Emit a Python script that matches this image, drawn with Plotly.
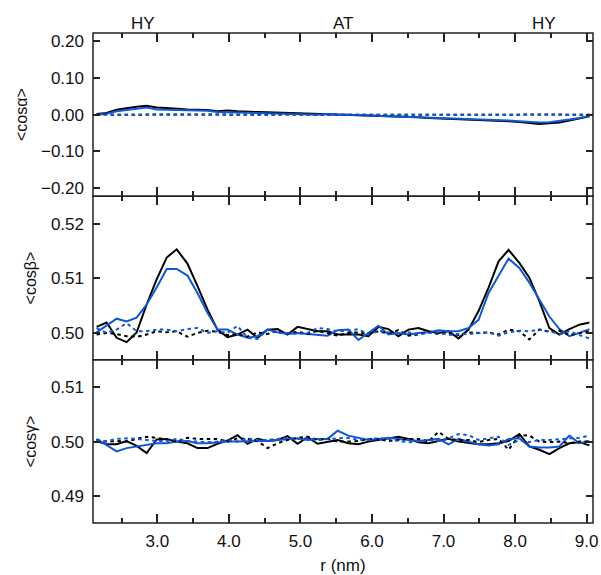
import plotly.graph_objects as go
from plotly.subplots import make_subplots

r_nm = [2.15, 2.29, 2.43, 2.57, 2.71, 2.85, 2.99, 3.13, 3.27, 3.42, 3.56, 3.70, 3.84, 3.98, 4.12,
        4.26, 4.40, 4.54, 4.68, 4.82, 4.96, 5.10, 5.24, 5.38, 5.52, 5.67, 5.81, 5.95, 6.09, 6.23,
        6.37, 6.51, 6.65, 6.79, 6.93, 7.07, 7.21, 7.35, 7.49, 7.63, 7.77, 7.91, 8.06, 8.20, 8.34,
        8.48, 8.62, 8.76, 8.90, 9.04]

# <cos alpha>
alpha_black = [0.0018, 0.0045, 0.0134, 0.0179, 0.0215, 0.0242, 0.0197, 0.0179, 0.0152, 0.0143,
               0.0134, 0.0125, 0.0090, 0.0116, 0.0090, 0.0072, 0.0072, 0.0063, 0.0054, 0.0045,
               0.0045, 0.0036, 0.0018, 0.0027, 0.0000, 0.0000, -0.0018, -0.0027, -0.0036, -0.0045,
               -0.0054, -0.0063, -0.0072, -0.0090, -0.0099, -0.0108, -0.0125, -0.0134, -0.0143, -0.0161,
               -0.0161, -0.0179, -0.0197, -0.0224, -0.0251, -0.0233, -0.0215, -0.0161, -0.0108, -0.0045]
alpha_blue = [0.0000, 0.0027, 0.0090, 0.0134, 0.0161, 0.0197, 0.0143, 0.0134, 0.0125, 0.0116,
              0.0108, 0.0108, 0.0072, 0.0072, 0.0054, 0.0054, 0.0045, 0.0036, 0.0036, 0.0027,
              0.0027, 0.0018, 0.0000, 0.0018, -0.0009, 0.0000, -0.0009, -0.0018, -0.0027, -0.0036,
              -0.0045, -0.0054, -0.0063, -0.0072, -0.0081, -0.0090, -0.0108, -0.0116, -0.0125, -0.0143,
              -0.0152, -0.0161, -0.0179, -0.0197, -0.0215, -0.0206, -0.0179, -0.0134, -0.0090, -0.0036]
alpha_black_ref = [0.0002, -0.0002, 0.0001, 0.0003, -0.0001, 0.0002, 0.0000, -0.0003, 0.0001, 0.0002,
                   -0.0001, 0.0000, 0.0002, -0.0002, 0.0001, 0.0000, 0.0003, -0.0001, 0.0001, -0.0002,
                   0.0000, 0.0002, -0.0001, 0.0001, 0.0000, -0.0002, 0.0001, 0.0002, -0.0001, 0.0000,
                   0.0001, -0.0002, 0.0002, 0.0000, -0.0001, 0.0001, 0.0002, -0.0002, 0.0000, 0.0001,
                   -0.0001, 0.0002, 0.0000, -0.0002, 0.0001, 0.0000, 0.0002, -0.0001, 0.0001, 0.0000]
alpha_blue_ref = [0.0001, 0.0000, -0.0002, 0.0001, 0.0002, -0.0001, 0.0000, 0.0002, -0.0001, 0.0001,
                  0.0000, -0.0002, 0.0001, 0.0002, 0.0000, -0.0001, 0.0001, 0.0000, 0.0002, -0.0001,
                  0.0001, 0.0000, -0.0002, 0.0002, 0.0001, 0.0000, -0.0001, 0.0001, 0.0000, 0.0002,
                  -0.0001, 0.0000, 0.0001, -0.0002, 0.0001, 0.0002, 0.0000, -0.0001, 0.0001, 0.0000,
                  0.0003, 0.0001, -0.0001, 0.0002, 0.0000, 0.0001, -0.0001, 0.0002, 0.0000, 0.0001]

# <cos beta>
beta_black = [0.5011, 0.5019, 0.4991, 0.4983, 0.5001, 0.5052, 0.5098, 0.5138, 0.5153, 0.5127,
              0.5086, 0.5043, 0.5006, 0.4992, 0.4997, 0.5006, 0.4991, 0.5006, 0.5007, 0.4997,
              0.5011, 0.5007, 0.5003, 0.5003, 0.4997, 0.4997, 0.4997, 0.4994, 0.5011, 0.5007,
              0.4994, 0.5006, 0.5009, 0.5003, 0.5000, 0.5003, 0.4990, 0.5006, 0.5040, 0.5083,
              0.5131, 0.5152, 0.5128, 0.5101, 0.5058, 0.5009, 0.4997, 0.5007, 0.5015, 0.5019]
beta_blue = [0.5001, 0.5013, 0.5026, 0.5021, 0.5028, 0.5052, 0.5083, 0.5117, 0.5117, 0.5105,
             0.5073, 0.5037, 0.5006, 0.5006, 0.4997, 0.4991, 0.4994, 0.5006, 0.5001, 0.4998,
             0.5000, 0.4998, 0.4997, 0.4995, 0.5005, 0.5006, 0.4987, 0.5000, 0.5013, 0.4997,
             0.5000, 0.4997, 0.5000, 0.5001, 0.5005, 0.5003, 0.5003, 0.5009, 0.5024, 0.5073,
             0.5104, 0.5136, 0.5119, 0.5092, 0.5061, 0.5030, 0.5007, 0.4994, 0.5000, 0.5007]
beta_black_ref = [0.4997, 0.5000, 0.4998, 0.4994, 0.4993, 0.4997, 0.5003, 0.5001, 0.5003, 0.4993,
                  0.5000, 0.5004, 0.5002, 0.4996, 0.4998, 0.4993, 0.5001, 0.4998, 0.5004, 0.4999,
                  0.5002, 0.4998, 0.5004, 0.4999, 0.4995, 0.5000, 0.5001, 0.4998, 0.5003, 0.4999,
                  0.5005, 0.4995, 0.4997, 0.5002, 0.4998, 0.5000, 0.4996, 0.5001, 0.5000, 0.5001,
                  0.4997, 0.5006, 0.5003, 0.4988, 0.5006, 0.5002, 0.5004, 0.4996, 0.5000, 0.5003]
beta_blue_ref = [0.5009, 0.5000, 0.5006, 0.5018, 0.5003, 0.5003, 0.5006, 0.5006, 0.5003, 0.5007,
                 0.5009, 0.5000, 0.5003, 0.5000, 0.5013, 0.4991, 0.4989, 0.5006, 0.5000, 0.5000,
                 0.4998, 0.5000, 0.5009, 0.5007, 0.5003, 0.5004, 0.5007, 0.4997, 0.5004, 0.5001,
                 0.4998, 0.5001, 0.4997, 0.5000, 0.5001, 0.4996, 0.4998, 0.4998, 0.5000, 0.5001,
                 0.4995, 0.5001, 0.5004, 0.5003, 0.5006, 0.5003, 0.4998, 0.5003, 0.4996, 0.4990]

# <cos gamma>
gamma_black = [0.5001, 0.4995, 0.4995, 0.5001, 0.4992, 0.4979, 0.5004, 0.5005, 0.5000, 0.4997,
               0.4988, 0.4988, 0.4996, 0.5002, 0.5012, 0.4996, 0.5005, 0.5001, 0.5003, 0.5010,
               0.4996, 0.5008, 0.4996, 0.4999, 0.5003, 0.4997, 0.4995, 0.5000, 0.5003, 0.5005,
               0.5009, 0.5005, 0.4999, 0.4997, 0.5001, 0.5005, 0.5000, 0.4997, 0.4995, 0.4995,
               0.4997, 0.5001, 0.5014, 0.4991, 0.4985, 0.4977, 0.4988, 0.4997, 0.4999, 0.4993]
gamma_blue = [0.5005, 0.4994, 0.4982, 0.4988, 0.4991, 0.4994, 0.4997, 0.4997, 0.5000, 0.5001,
              0.4997, 0.4997, 0.4999, 0.5000, 0.5000, 0.5001, 0.5001, 0.5001, 0.5003, 0.5005,
              0.5006, 0.5003, 0.5005, 0.5005, 0.5020, 0.5011, 0.5007, 0.5003, 0.5005, 0.5007,
              0.5005, 0.5003, 0.5001, 0.5003, 0.5005, 0.4995, 0.5005, 0.5000, 0.4995, 0.4993,
              0.4995, 0.5005, 0.5006, 0.4991, 0.4989, 0.4989, 0.4991, 0.5011, 0.4997, 0.5001]
gamma_black_ref = [0.5003, 0.5000, 0.5001, 0.5000, 0.5005, 0.5009, 0.5007, 0.5003, 0.5000, 0.5007,
                   0.5005, 0.5005, 0.5005, 0.5000, 0.5006, 0.5005, 0.5001, 0.4988, 0.4997, 0.5003,
                   0.5007, 0.5009, 0.5003, 0.5005, 0.5000, 0.5000, 0.5001, 0.5005, 0.5005, 0.5001,
                   0.5003, 0.5005, 0.5005, 0.5000, 0.5018, 0.5005, 0.5003, 0.5003, 0.4999, 0.5003,
                   0.5005, 0.4985, 0.5012, 0.5011, 0.5000, 0.4999, 0.5000, 0.4997, 0.5000, 0.5000]
gamma_blue_ref = [0.5003, 0.5001, 0.5005, 0.5006, 0.5005, 0.5003, 0.5001, 0.5001, 0.5005, 0.5001,
                  0.5000, 0.4999, 0.5000, 0.5003, 0.5000, 0.5006, 0.5003, 0.5003, 0.5005, 0.5007,
                  0.5005, 0.5006, 0.5003, 0.5005, 0.5006, 0.5007, 0.5003, 0.5005, 0.5006, 0.5005,
                  0.5001, 0.4999, 0.5000, 0.5003, 0.5001, 0.5006, 0.5014, 0.5012, 0.5003, 0.5006,
                  0.5009, 0.4994, 0.5003, 0.4999, 0.5003, 0.5003, 0.5005, 0.5006, 0.5007, 0.5011]

region_labels = ["HY", "AT", "HY"]
region_label_x = [2.8, 5.6, 8.4]
boundaries = [3.5, 7.7]

BLACK = "#000000"
BLUE = "#1158d4"
AX = "#222222"
TXT = "#111111"
FONT = "Liberation Sans, Arial, sans-serif"
DOT = "3.5px,3.5px"

fig = make_subplots(rows=3, cols=1, shared_xaxes=True, vertical_spacing=0)

panels = [
    (alpha_black, alpha_blue, alpha_black_ref, alpha_blue_ref),
    (beta_black, beta_blue, beta_black_ref, beta_blue_ref),
    (gamma_black, gamma_blue, gamma_black_ref, gamma_blue_ref),
]

for row, (kb, bl, kbr, blr) in enumerate(panels, start=1):
    for xb in boundaries:
        fig.add_vline(x=xb, line=dict(color="#c8c8c8", width=2), layer="below", row=row, col=1)
    fig.add_trace(go.Scatter(x=r_nm, y=kb, mode="lines", line=dict(color=BLACK, width=2)), row=row, col=1)
    fig.add_trace(go.Scatter(x=r_nm, y=bl, mode="lines", line=dict(color=BLUE, width=2)), row=row, col=1)
    fig.add_trace(go.Scatter(x=r_nm, y=kbr, mode="lines", line=dict(color=BLACK, width=2, dash=DOT)), row=row, col=1)
    fig.add_trace(go.Scatter(x=r_nm, y=blr, mode="lines", line=dict(color=BLUE, width=2, dash=DOT)), row=row, col=1)
    # panel frame (shared edges drawn once at the same pixel)
    xd = "x domain" if row == 1 else f"x{row} domain"
    yd = "y domain" if row == 1 else f"y{row} domain"
    fig.add_shape(type="rect", xref=xd, yref=yd, x0=0, x1=1, y0=0, y1=1,
                  line=dict(color=AX, width=1.5), fillcolor="rgba(0,0,0,0)", layer="above")

axis_common = dict(showline=False, mirror="ticks", automargin=False,
                   ticks="inside", tickcolor=AX, tickwidth=1.5,
                   showgrid=False, zeroline=False,
                   tickfont=dict(family=FONT, size=17, color=TXT))

for row in range(1, 4):
    fig.update_xaxes(range=[2.1, 9.09], tickvals=[3, 4, 5, 6, 7, 8, 9], tickformat=".1f",
                     ticklen=9, ticklabelstandoff=6,
                     minor=dict(dtick=0.5, tick0=2.5, ticklen=5, ticks="inside",
                                tickcolor=AX, tickwidth=1.5),
                     showticklabels=(row == 3), row=row, col=1, **axis_common)

fig.update_xaxes(title=dict(text="r (nm)", font=dict(family=FONT, size=17, color=TXT), standoff=14),
                 row=3, col=1)

ytitle_font = dict(family=FONT, size=16, color=TXT)
fig.update_yaxes(range=[-0.222, 0.222], tickvals=[-0.2, -0.1, 0.0, 0.1, 0.2], tickformat=".2f",
                 ticklen=7, ticklabelstandoff=8,
                 title=dict(text="&lt;cosα&gt;", font=ytitle_font, standoff=9),
                 row=1, col=1, **axis_common)
fig.update_yaxes(range=[0.4951, 0.525], tickvals=[0.50, 0.51, 0.52], tickformat=".2f",
                 ticklen=7, ticklabelstandoff=8,
                 title=dict(text="&lt;cosβ&gt;", font=ytitle_font, standoff=10),
                 row=2, col=1, **axis_common)
fig.update_yaxes(range=[0.485, 0.5151], tickvals=[0.49, 0.50, 0.51], tickformat=".2f",
                 ticklen=7, ticklabelstandoff=8,
                 title=dict(text="&lt;cosγ&gt;", font=ytitle_font, standoff=10),
                 row=3, col=1, **axis_common)

for lab, lx in zip(region_labels, region_label_x):
    fig.add_annotation(x=lx, y=1.0, xref="x", yref="paper", yshift=-2, yanchor="bottom",
                       text=lab, showarrow=False, font=dict(family=FONT, size=17, color=TXT))

fig.update_layout(width=601, height=575, margin=dict(l=93, r=8, t=33, b=52),
                  paper_bgcolor="white", plot_bgcolor="white", showlegend=False,
                  font=dict(family=FONT, size=17, color=TXT))

fig.write_html("out.html")
